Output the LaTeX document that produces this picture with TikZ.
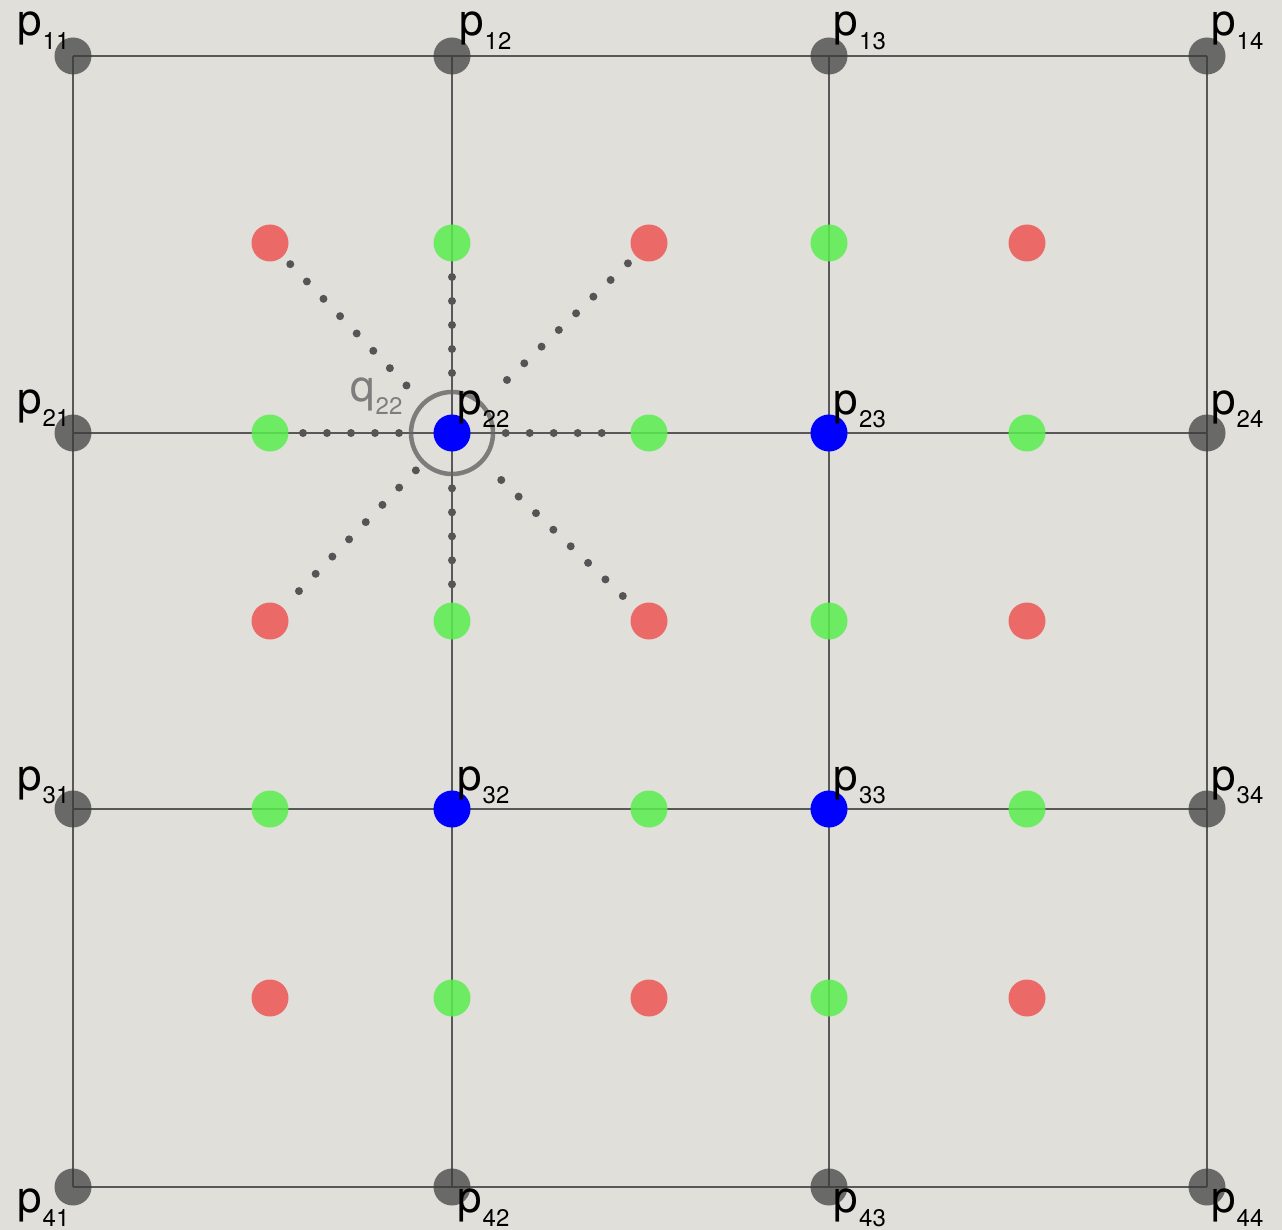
\documentclass[tikz,border=0pt]{standalone}
\usepackage{fontspec}
\setmainfont{TeX Gyre Heros}
\usetikzlibrary{backgrounds}
\definecolor{bgc}{RGB}{224,223,218}
\definecolor{gridc}{RGB}{88,88,88}
\definecolor{dotgray}{RGB}{60,60,60}
\definecolor{redc}{RGB}{238,86,83}
\definecolor{greenc}{RGB}{90,238,78}
\definecolor{smalldot}{RGB}{85,85,85}
\definecolor{ringc}{RGB}{100,100,100}
\definecolor{qc}{RGB}{125,125,125}
\newcommand\plab[2]{{\fontsize{44}{44}\selectfont #1\hspace{1pt}\raisebox{-13.5pt}{\fontsize{24}{24}\selectfont #2}}}
\tikzset{
  basedot/.style={circle, inner sep=0pt, minimum size=37pt, draw=none},
  graydot/.style={basedot, fill=dotgray, fill opacity=0.72},
  bluedot/.style={basedot, fill=blue},
  reddot/.style={basedot, fill=redc, fill opacity=0.85},
  greendot/.style={basedot, fill=greenc, fill opacity=0.85},
  gridline/.style={draw=gridc, line width=2.7pt},
  dotline/.style={draw=smalldot, line width=8pt, line cap=round, dash pattern=on 0pt off 24pt},
  ring/.style={circle, draw=ringc, draw opacity=0.8, line width=4.5pt, minimum size=82pt, inner sep=0pt},
  plabel/.style={inner sep=0pt, anchor=base west, text=black},
  qlabel/.style={inner sep=0pt, anchor=base west, text=qc},
}
\begin{document}
\begin{tikzpicture}[x=1pt, y=-1pt]
\useasboundingbox (0,0) rectangle (1282,1230);
% grid points
\node[graydot] (p11) at (73,56) {};
\node[graydot] (p12) at (452,56) {};
\node[graydot] (p13) at (829,56) {};
\node[graydot] (p14) at (1207,56) {};
\node[graydot] (p21) at (73,433) {};
\node[bluedot] (p22) at (452,433) {};
\node[bluedot] (p23) at (829,433) {};
\node[graydot] (p24) at (1207,433) {};
\node[graydot] (p31) at (73,809) {};
\node[bluedot] (p32) at (452,809) {};
\node[bluedot] (p33) at (829,809) {};
\node[graydot] (p34) at (1207,809) {};
\node[graydot] (p41) at (73,1187) {};
\node[graydot] (p42) at (452,1187) {};
\node[graydot] (p43) at (829,1187) {};
\node[graydot] (p44) at (1207,1187) {};
\begin{scope}[on background layer]
  \fill[bgc] (0,0) rectangle (1282,1230);
  \foreach \r in {1,2,3,4} {
    \draw[gridline] (p\r1.center) -- (p\r4.center);
    \draw[gridline] (p1\r.center) -- (p4\r.center);
  }
\end{scope}
% red dots
\node[reddot] (r11) at (270,243) {};
\node[reddot] (r12) at (649,243) {};
\node[reddot] (r13) at (1027,243) {};
\node[reddot] (r21) at (270,621) {};
\node[reddot] (r22) at (649,621) {};
\node[reddot] (r23) at (1027,621) {};
\node[reddot] (r31) at (270,998) {};
\node[reddot] (r32) at (649,998) {};
\node[reddot] (r33) at (1027,998) {};
% green dots on rows
\node[greendot] (h21) at (270,433) {};
\node[greendot] (h22) at (649,433) {};
\node[greendot] (h23) at (1027,433) {};
\node[greendot] (h31) at (270,809) {};
\node[greendot] (h32) at (649,809) {};
\node[greendot] (h33) at (1027,809) {};
% green dots on columns
\node[greendot] (v12) at (452,243) {};
\node[greendot] (v13) at (829,243) {};
\node[greendot] (v22) at (452,621) {};
\node[greendot] (v23) at (829,621) {};
\node[greendot] (v32) at (452,998) {};
\node[greendot] (v33) at (829,998) {};
% ring around p22
\node[ring] (q22) at (p22) {};
% dotted connectors
\draw[dotline, shorten <=53pt, shorten >=32pt] (p22.center) -- (h21.center);
\draw[dotline, shorten <=53.7pt, shorten >=46.3pt] (p22.center) -- (h22.center);
\draw[dotline, shorten <=60pt, shorten >=33pt] (p22.center) -- (v12.center);
\draw[dotline, shorten <=55.3pt, shorten >=35.7pt] (p22.center) -- (v22.center);
\draw[dotline, shorten <=65.8pt, shorten >=28.3pt] (p22.center) -- (r11.center);
\draw[dotline, shorten <=76.4pt, shorten >=28.3pt] (p22.center) -- (r12.center);
\draw[dotline, shorten <=68.1pt, shorten >=35.2pt] (p22.center) -- (r22.center);
\draw[dotline, shorten <=52pt, shorten >=40.7pt] (p22.center) -- (r21.center);
% labels
\node[plabel] (l11) at (17,36) {\plab{p}{11}};
\node[plabel] (l12) at (459,36) {\plab{p}{12}};
\node[plabel] (l13) at (833.5,36) {\plab{p}{13}};
\node[plabel] (l14) at (1211,36) {\plab{p}{14}};
\node[plabel] (l21) at (17,413) {\plab{p}{21}};
\node[plabel] (l22) at (457,414) {\plab{p}{22}};
\node[plabel] (l23) at (833.5,414) {\plab{p}{23}};
\node[plabel] (l24) at (1211,414) {\plab{p}{24}};
\node[plabel] (l31) at (17,790) {\plab{p}{31}};
\node[plabel] (l32) at (457,790) {\plab{p}{32}};
\node[plabel] (l33) at (833.5,790) {\plab{p}{33}};
\node[plabel] (l34) at (1211,790) {\plab{p}{34}};
\node[plabel] (l41) at (17,1212.5) {\plab{p}{41}};
\node[plabel] (l42) at (457,1212.5) {\plab{p}{42}};
\node[plabel] (l43) at (833.5,1212.5) {\plab{p}{43}};
\node[plabel] (l44) at (1211,1212.5) {\plab{p}{44}};
\node[qlabel] (lq) at (350,401) {\plab{q}{22}};
\end{tikzpicture}
\end{document}
